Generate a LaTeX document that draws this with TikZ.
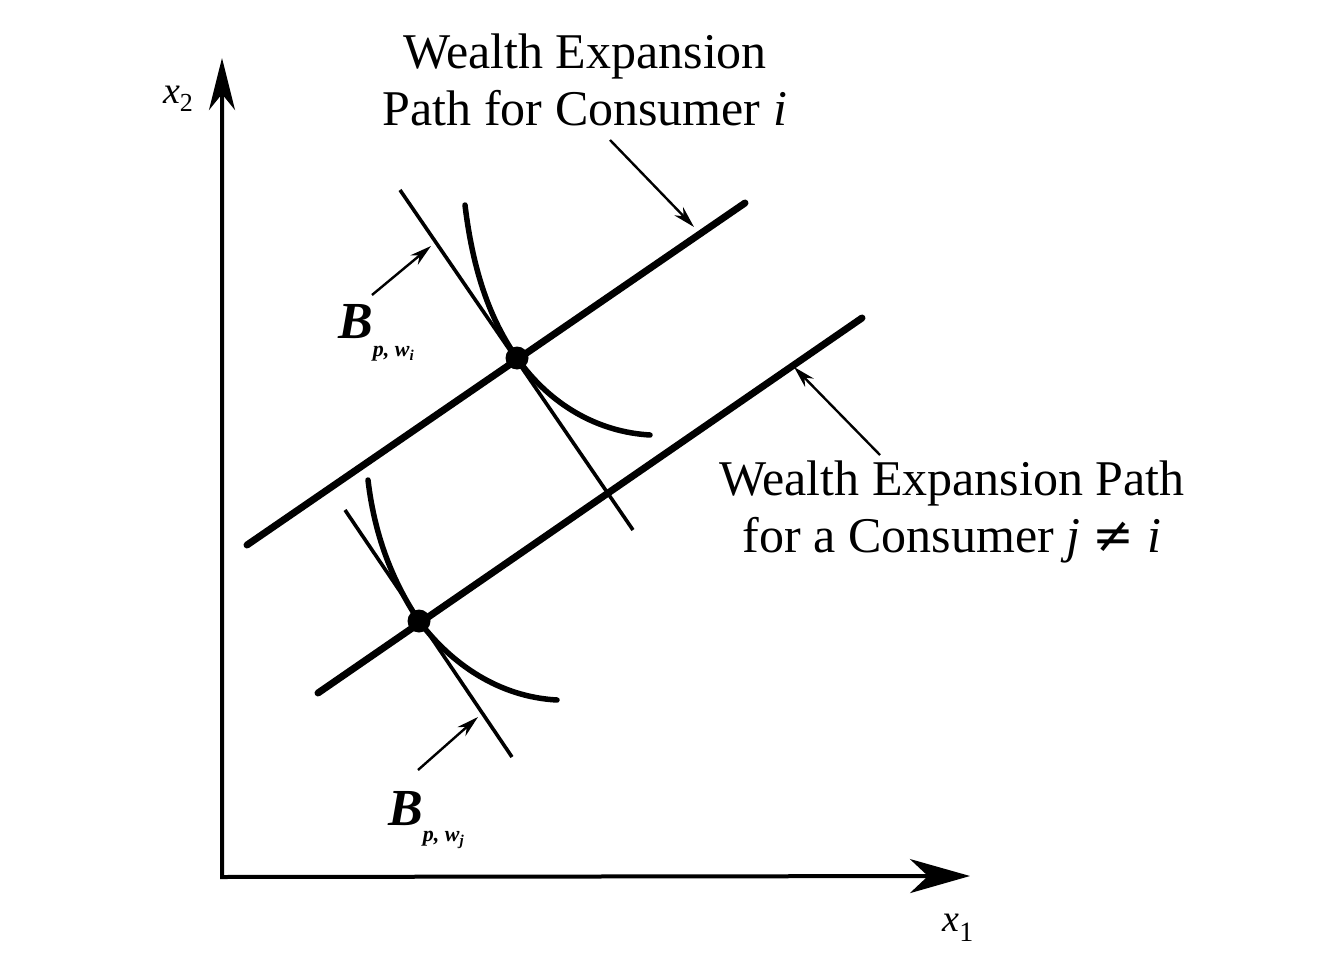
\documentclass[tikz,border=0pt]{standalone}
\usepackage{fontspec}
\setmainfont{Liberation Serif}
\newfontfamily\symfont{DejaVu Serif}
\usetikzlibrary{arrows.meta}
\begin{document}
\begin{tikzpicture}[x=1pt,y=-1pt,
  wep/.style={line width=7pt, line cap=round},
  budget/.style={line width=3.6pt},
  indiff/.style={line width=5.5pt, line cap=round},
  axes/.style={line width=4pt, {Stealth[length=52pt,width=26pt,inset=16pt]}-{Stealth[length=60pt,width=34pt,inset=18pt]}},
  pointer/.style={line width=2.4pt, -{Stealth[length=22pt,width=12pt]}},
  lbl/.style={font=\fontsize{50}{57}\selectfont, align=center, inner sep=0pt},
  blbl/.style={font=\fontsize{52}{52}\selectfont\itshape\bfseries, inner sep=0pt},
  axlbl/.style={font=\fontsize{38}{38}\selectfont, inner sep=0pt},
  eqdot/.style={circle, fill=black, inner sep=0pt, minimum size=23pt}
]
\useasboundingbox (0,0) rectangle (1344,960);
% axes
\coordinate (Ytop) at (222,58);
\coordinate (O) at (222,877);
\coordinate (Xend) at (970,876);
\draw[axes] (Ytop) -- (O) -- (Xend);
\node[axlbl] (x2lab) at (178,99) {\textit{x}\raisebox{-8pt}{\fontsize{26}{26}\selectfont 2}};
\node[axlbl] (x1lab) at (958,928) {\textit{x}\raisebox{-10pt}{\fontsize{28}{28}\selectfont 1}};
% wealth expansion paths
\coordinate (Pi1) at (247,545);
\coordinate (Pi2) at (745,203);
\coordinate (Pj1) at (318,693);
\coordinate (Pj2) at (862,318);
\draw[wep] (Pi1) -- (Pi2);
\draw[wep] (Pj1) -- (Pj2);
% budget lines
\coordinate (Bi1) at (400,190);
\coordinate (Bi2) at (633,530);
\coordinate (Bj1) at (345,510);
\coordinate (Bj2) at (512,757);
\draw[budget] (Bi1) -- (Bi2);
\draw[budget] (Bj1) -- (Bj2);
% equilibrium points
\node[eqdot] (Ei) at (517,358) {};
\node[eqdot] (Ej) at (419,621) {};
% indifference curves
\coordinate (Ui1) at (465,205);
\coordinate (Ui2) at (650,435);
\coordinate (Uj1) at (368,480);
\coordinate (Uj2) at (557,700);
\draw[indiff] (Ui1) .. controls (474,280) and (494,325) .. (Ei.center) .. controls (550,405) and (598,432) .. (Ui2);
\draw[indiff] (Uj1) .. controls (375,540) and (395,585) .. (Ej.center) .. controls (452,665) and (500,697) .. (Uj2);
% labels
\node[lbl] (Ti) at (585,80) {Wealth Expansion\\Path for Consumer \textit{i}};
\node[lbl] (Tj) at (952,512) {Wealth Expansion Path\\for a Consumer \textit{j} {\symfont ≠} \textit{i}};
\node[blbl, anchor=base west] (Bilab) at (338,338) {B\raisebox{-18pt}{\fontsize{22}{22}\selectfont p, w\raisebox{-4pt}{\fontsize{15}{15}\selectfont i}}};
\node[blbl, anchor=base west] (Bjlab) at (388,825) {B\raisebox{-16pt}{\fontsize{22}{22}\selectfont p, w\raisebox{-4pt}{\fontsize{15}{15}\selectfont j}}};
% pointers
\coordinate (tTi) at (610,140);
\coordinate (hTi) at (694,227);
\coordinate (tTj) at (880,455);
\coordinate (hTj) at (794,367);
\coordinate (tBi) at (372,295);
\coordinate (hBi) at (431,246);
\coordinate (tBj) at (418,770);
\coordinate (hBj) at (478,717);
\draw[pointer] (tTi) -- (hTi);
\draw[pointer] (tTj) -- (hTj);
\draw[pointer] (tBi) -- (hBi);
\draw[pointer] (tBj) -- (hBj);
\end{tikzpicture}
\end{document}
